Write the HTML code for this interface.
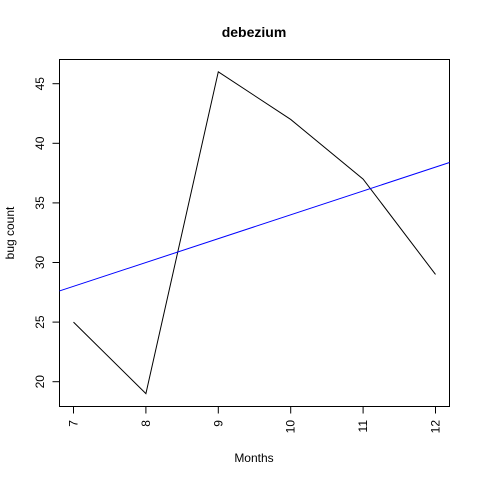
<!DOCTYPE html>
<html><head><meta charset="utf-8"><style>body{margin:0;background:#fff}svg{display:block}text{font-family:"Liberation Sans",Arial,sans-serif}</style></head>
<body>
<svg id="chart" width="480" height="480" xmlns="http://www.w3.org/2000/svg">
<rect width="480" height="480" fill="#fff"/>
<text x="254" y="37" text-anchor="middle" font-size="14" font-weight="bold">debezium</text>
<text x="254" y="462" text-anchor="middle" font-size="12">Months</text>
<text transform="translate(14,233) rotate(-90)" text-anchor="middle" font-size="12">bug count</text>
<rect x="59.5" y="59.5" width="390" height="347" fill="none" stroke="#000"/>
<g id="xaxis"></g><g id="yaxis"></g><g id="series"></g>
</svg>
<script>
const months=[7,8,9,10,11,12];
const bugs=[25,19,46,42,37,29];
const xTicks=[7,8,9,10,11,12];
const yTicks=[20,25,30,35,40,45];
const NS="http://www.w3.org/2000/svg";
function X(v){return 73.5+(v-7)*72.4;}
function Y(v){return 381.7-(v-20)*11.92;}
function mk(t,a,p){const e=document.createElementNS(NS,t);for(const k in a)e.setAttribute(k,a[k]);p.appendChild(e);return e;}
const xa=document.getElementById('xaxis'),ya=document.getElementById('yaxis'),se=document.getElementById('series');
xTicks.forEach(v=>{const x=X(v);
const t=mk('line',{x1:x,x2:x,y1:406.5,y2:413.5,stroke:'#000'},xa);


const l=mk('text',{transform:`translate(${x+4},420) rotate(-90)`,'text-anchor':'end','font-size':'12'},xa);l.textContent=v;

});
yTicks.forEach(v=>{const y=Y(v);
const t=mk('line',{x1:52.5,x2:59.5,y1:y,y2:y,stroke:'#000'},ya);


const l=mk('text',{transform:`translate(44,${y}) rotate(-90)`,'text-anchor':'middle','font-size':'12'},ya);l.textContent=v;

});
const pl=mk('polyline',{points:months.map((m,i)=>X(m)+','+Y(bugs[i])).join(' '),fill:'none',stroke:'#000','stroke-width':1},se);


// linear regression
const n=months.length,mx=months.reduce((a,b)=>a+b)/n,my=bugs.reduce((a,b)=>a+b)/n;
let sxy=0,sxx=0;months.forEach((m,i)=>{sxy+=(m-mx)*(bugs[i]-my);sxx+=(m-mx)*(m-mx);});
const b=sxy/sxx,a=my-b*mx;
const x0=7-(73.5-59.5)/72.4,x1=7+(449.5-73.5)/72.4;
const rl=mk('line',{x1:59.5,y1:Y(a+b*x0),x2:449.5,y2:Y(a+b*x1),stroke:'#0000ff','stroke-width':1},se);


</script>
</body></html>
